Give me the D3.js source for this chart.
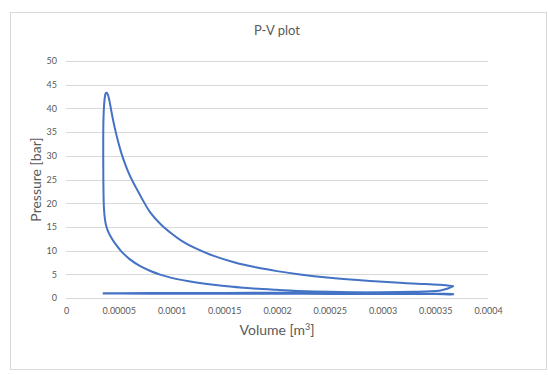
<!DOCTYPE html>
<html>
<head>
<meta charset="utf-8">
<script src="https://cdn.jsdelivr.net/npm/d3@7"></script>
<style>
    body { margin: 0; background: #fff; }
    svg text { font-family: Lato, "Open Sans", sans-serif; fill: #595959; }
</style>
</head>
<body>
<div id="chart"></div>
<script>
// one engine cycle, volume in m3, pressure in bar
const intakeV = [3.48e-5, 5e-5, 1e-4, 1.5e-4, 2e-4, 2.5e-4, 3e-4, 3.5e-4, 3.67e-4];
const intakeP = [0.95, 0.93, 0.9, 0.88, 0.88, 0.86, 0.85, 0.83, 0.8];

const compressionV = [3.67e-4, 3.5e-4, 3.2e-4, 3e-4, 2.7e-4, 2.5e-4, 2.2e-4, 2e-4, 1.75e-4, 1.5e-4, 1.3e-4, 1.15e-4, 1e-4, 9e-5, 8e-5, 7e-5, 6e-5, 5.5e-5, 5.18e-5, 4.6e-5, 4.3e-5, 4e-5, 3.8e-5, 3.68e-5, 3.6e-5, 3.56e-5, 3.54e-5, 3.53e-5, 3.53e-5, 3.55e-5, 3.6e-5, 3.68e-5, 3.77e-5];
const compressionP = [0.85, 0.92, 1.02, 1.08, 1.2, 1.3, 1.5, 1.72, 2.05, 2.52, 3.05, 3.57, 4.25, 4.88, 5.69, 6.76, 8.26, 9.25, 10, 11.67, 12.7, 14.0, 15.3, 16.8, 18.8, 21.5, 25, 30, 34, 37.5, 40.3, 42.3, 43.2];

const expansionV = [3.86e-5, 3.95e-5, 4.1e-5, 4.3e-5, 4.6e-5, 5e-5, 5.3e-5, 6e-5, 7e-5, 8e-5, 9e-5, 1e-4, 1.1e-4, 1.23e-4, 1.4e-4, 1.6e-4, 1.8e-4, 2e-4, 2.2e-4, 2.5e-4, 2.88e-4, 3.2e-4, 3.4e-4, 3.55e-4, 3.67e-4];
const expansionP = [43.3, 43.0, 41.8, 39.4, 36.1, 32.5, 30.2, 26.1, 21.8, 18.0, 15.5, 13.6, 12.0, 10.45, 8.88, 7.5, 6.47, 5.67, 5.03, 4.28, 3.6, 3.15, 2.95, 2.78, 2.5];

const exhaustV = [3.67e-4, 3.62e-4, 3.55e-4, 3.45e-4, 3.3e-4, 3e-4, 2.5e-4, 2e-4, 1.5e-4, 1e-4, 5e-5, 3.5e-5];
const exhaustP = [2.5, 2.0, 1.6, 1.4, 1.3, 1.2, 1.15, 1.1, 1.08, 1.05, 1.02, 0.98];

const xTicks = [0, 0.00005, 0.0001, 0.00015, 0.0002, 0.00025, 0.0003, 0.00035, 0.0004];
const yTicks = [0, 5, 10, 15, 20, 25, 30, 35, 40, 45, 50];

const width = 548;
const height = 375;
const margin = { top: 61, right: 60, bottom: 77, left: 66 };

const zip = (vs, ps) => vs.map((v, i) => ({ v, p: ps[i] }));
const cycle = [
    ...zip(intakeV, intakeP),
    ...zip(compressionV, compressionP),
    ...zip(expansionV, expansionP),
    ...zip(exhaustV, exhaustP)
];

const svg = d3.select('#chart').append('svg')
    .attr('width', width)
    .attr('height', height);

// chart frame
svg.append('rect')
    .attr('x', 10.5).attr('y', 12.5)
    .attr('width', 536).attr('height', 357)
    .attr('fill', '#fff')
    .attr('stroke', '#d9d9d9');

const x = d3.scaleLinear().domain([0, 0.0004]).range([margin.left, width - margin.right]);
const y = d3.scaleLinear().domain([0, 50]).range([height - margin.bottom, margin.top]);

// gridlines
svg.append('g')
    .selectAll('line')
    .data(yTicks)
    .enter()
    .append('line')
    .attr('x1', x(0)).attr('x2', x(0.0004))
    .attr('y1', d => Math.round(y(d)) + 0.5)
    .attr('y2', d => Math.round(y(d)) + 0.5)
    .attr('stroke', '#d9d9d9');

const xAxis = svg.append('g')
    .attr('transform', `translate(0,${y(0)})`)
    .call(d3.axisBottom(x).tickValues(xTicks).tickSize(0).tickPadding(10).tickFormat(d => String(+d.toPrecision(6))));
xAxis.select('.domain').remove();

const yAxis = svg.append('g')
    .attr('transform', `translate(${x(0)},0)`)
    .call(d3.axisLeft(y).tickValues(yTicks).tickSize(0).tickPadding(9));
yAxis.select('.domain').remove();

svg.selectAll('.tick text')
    .style('font-size', '9px')
    .style('fill', '#595959');

// P-V curve
const line = d3.line()
    .x(d => x(d.v))
    .y(d => y(d.p))
    .curve(d3.curveCatmullRom.alpha(0.5));

svg.append('path')
    .datum(cycle)
    .attr('d', line)
    .attr('fill', 'none')
    .attr('stroke', '#4472c4')
    .attr('stroke-width', 2)
    .attr('stroke-linejoin', 'round');

// titles
svg.append('text')
    .attr('x', (x(0) + x(0.0004)) / 2)
    .attr('y', 35)
    .attr('text-anchor', 'middle')
    .style('font-size', '13px')
    .text('P-V plot');

const xTitle = svg.append('text')
    .attr('x', (x(0) + x(0.0004)) / 2)
    .attr('y', 335)
    .attr('text-anchor', 'middle')
    .style('font-size', '14px');
xTitle.append('tspan').text('Volume [m');
xTitle.append('tspan').attr('dy', -5).style('font-size', '9px').text('3');
xTitle.append('tspan').attr('dy', 5).text(']');

svg.append('text')
    .attr('transform', `translate(41,${(y(0) + y(50)) / 2}) rotate(-90)`)
    .attr('text-anchor', 'middle')
    .style('font-size', '14px')
    .text('Pressure [bar]');
</script>
</body>
</html>
